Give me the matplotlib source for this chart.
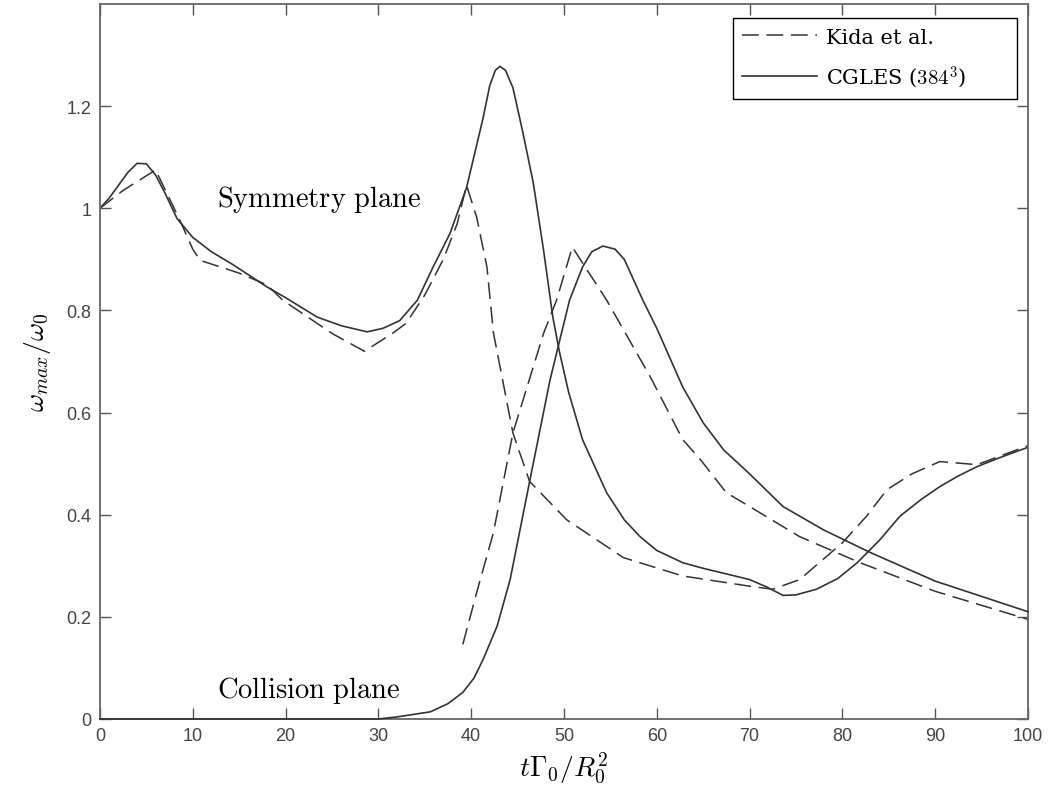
import matplotlib
matplotlib.use('Agg')
import matplotlib.pyplot as plt
import numpy as np

plt.rcParams['mathtext.fontset'] = 'cm'

# symmetry plane, CGLES (solid)
sym_les_x = [0, 1, 2, 3, 4, 5, 6, 7, 8.3, 10, 12, 14.3, 18, 20, 23.4, 26, 28.8, 30.5, 32.3, 34.2,
             35.9, 37.7, 39.5, 41.3, 42, 42.6, 43.1, 43.7, 44.5, 45.6, 46.7, 47.8, 48.8, 49.5, 50.5,
             52, 54.6, 56.5, 58.2, 60, 62.8, 65, 70, 71.9, 73.6, 75, 77.2, 79.5, 81.6, 84, 86.2,
             88.5, 90.5, 92.5, 94.5, 97, 100]
sym_les_y = [1.0, 1.02, 1.045, 1.07, 1.088, 1.087, 1.065, 1.03, 0.98, 0.943, 0.915, 0.89, 0.846,
             0.825, 0.787, 0.77, 0.758, 0.765, 0.78, 0.82, 0.885, 0.95, 1.04, 1.178, 1.24, 1.27,
             1.278, 1.27, 1.236, 1.146, 1.049, 0.918, 0.787, 0.72, 0.64, 0.547, 0.443, 0.39, 0.357,
             0.33, 0.306, 0.295, 0.273, 0.258, 0.242, 0.243, 0.254, 0.275, 0.306, 0.35, 0.397,
             0.43, 0.455, 0.476, 0.494, 0.512, 0.532]

# symmetry plane, Kida et al. (dashed)
sym_kida_x = [0, 2.5, 6, 8.6, 10, 10.8, 15, 18, 19.7, 25, 28.5, 31.6, 33, 35, 37, 38.5, 39.5, 40.6,
              41.7, 42.4, 44.5, 46.3, 50.3, 56.4, 62.8, 70, 72.5, 75.4, 80, 82.6, 84.8, 87.5,
              90.5, 94.5, 98.8, 100]
sym_kida_y = [1.0, 1.035, 1.075, 0.977, 0.92, 0.898, 0.873, 0.85, 0.82, 0.755, 0.72, 0.756, 0.775,
              0.83, 0.9, 0.97, 1.045, 0.982, 0.885, 0.756, 0.56, 0.465, 0.39, 0.316, 0.28, 0.26,
              0.254, 0.273, 0.345, 0.397, 0.449, 0.48, 0.504, 0.498, 0.527, 0.535]

# collision plane, CGLES (solid)
col_les_x = [0, 30, 32, 35.6, 37.5, 39.1, 40.3, 41.3, 42.8, 44.2, 46.3, 48.5, 50.6, 52, 53, 54.2,
             55.5, 56.5, 58.5, 60, 62.8, 65, 67.2, 70, 73.6, 78, 83, 90, 95, 100]
col_les_y = [0, 0, 0.004, 0.014, 0.03, 0.052, 0.08, 0.117, 0.182, 0.273, 0.465, 0.664, 0.82, 0.885,
             0.915, 0.926, 0.92, 0.9, 0.82, 0.765, 0.65, 0.58, 0.527, 0.48, 0.416, 0.37, 0.326,
             0.27, 0.24, 0.21]

# collision plane, Kida et al. (dashed)
col_kida_x = [39.1, 40.6, 42.4, 44.5, 47.8, 49.2, 50.9, 54.6, 59.3, 62.8, 64.7, 67.5, 70, 75.4,
              81.9, 90, 99.1, 100]
col_kida_y = [0.146, 0.248, 0.365, 0.56, 0.755, 0.82, 0.924, 0.82, 0.67, 0.547, 0.508, 0.443,
              0.416, 0.357, 0.306, 0.25, 0.2, 0.195]

xticks = [0, 10, 20, 30, 40, 50, 60, 70, 80, 90, 100]
yticks = [0, 0.2, 0.4, 0.6, 0.8, 1, 1.2]
yticklabels = ['0', '0.2', '0.4', '0.6', '0.8', '1', '1.2']

fig = plt.figure(figsize=(10.51, 8.04), dpi=100)
ax = fig.add_axes([0.0951, 0.1045, 0.883, 0.8893])

lc = '#333333'
dash = (0, (11, 5))
l1, = ax.plot(sym_kida_x, sym_kida_y, color=lc, lw=1.1, linestyle=dash)
ax.plot(col_kida_x, col_kida_y, color=lc, lw=1.1, linestyle=dash)
l2, = ax.plot(sym_les_x, sym_les_y, color=lc, lw=1.2)
ax.plot(col_les_x, col_les_y, color=lc, lw=1.2, clip_on=False, zorder=3)

ax.set_xlim(0, 100)
ax.set_ylim(0, 1.4)
ax.set_xticks(xticks)
ax.set_yticks(yticks)
ax.set_yticklabels(yticklabels)
ax.tick_params(direction='in', length=8, width=1, color='#555555', top=True, right=True,
               labelsize=13, labelcolor='#444444', pad=6)
for lab in ax.get_xticklabels() + ax.get_yticklabels():
    lab.set_family('Liberation Sans')
for s in ax.spines.values():
    s.set_color('#666666')
    s.set_linewidth(1.3)

ax.set_xlabel(r'$t\Gamma_0/R_0^2$', fontsize=20, labelpad=4)
ax.set_ylabel(r'$\omega_{max}/\omega_0$', fontsize=20, labelpad=10)

ax.text(12.6, 1.02, r'$\mathrm{Symmetry\ plane}$', fontsize=20.5, va='center', ha='left')
ax.text(12.6, 0.058, r'$\mathrm{Collision\ plane}$', fontsize=20.5, va='center', ha='left')

leg = ax.legend([l1, l2], ['Kida et al.', r'CGLES ($384^3$)'], loc='upper left',
                bbox_to_anchor=(0.682, 0.873, 0.306, 0.107), mode='expand',
                prop={'family': 'DejaVu Serif', 'size': 15}, handlelength=3.6,
                handletextpad=0.4, fancybox=False, edgecolor='black', framealpha=1,
                borderaxespad=0, labelspacing=0.8, borderpad=0.45)
leg.get_frame().set_linewidth(1.0)

plt.savefig('out.png', dpi=100)
